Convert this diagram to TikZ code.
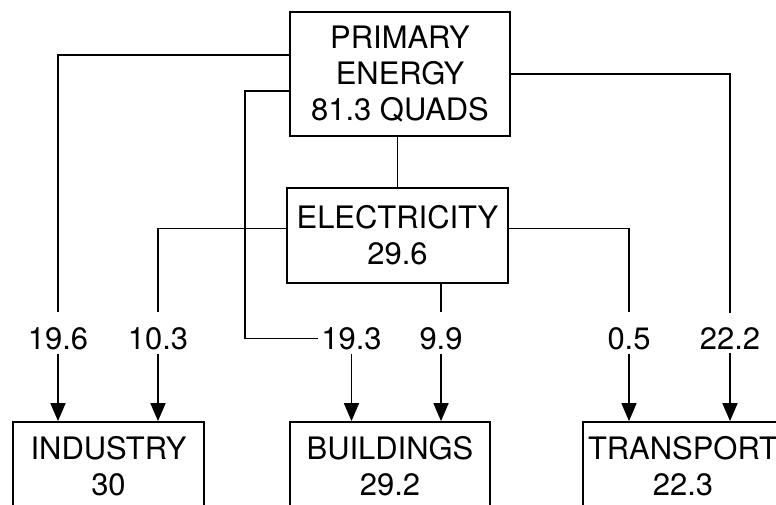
\documentclass[tikz,border=0pt]{standalone}
\usepackage{fontspec}
\setmainfont{TeX Gyre Heros}
\usetikzlibrary{positioning,arrows.meta}

\begin{document}
\begin{tikzpicture}[x=1cm,y=1cm,line width=1pt,
  font=\fontsize{17.6}{20.5}\selectfont,
  box/.style={draw,align=center,inner sep=0pt},
  val/.style={inner sep=0.06cm},
  feed/.style={-{Triangle[length=0.36cm,width=0.3cm]}}]
  \useasboundingbox (0,0) rectangle (15.52,10.1);
  \node[box,minimum width=4.4cm,minimum height=2.48cm] (prim) at (8.0,8.62) {PRIMARY\\ENERGY\\81.3 QUADS};
  \node[box,minimum width=4.42cm,minimum height=1.9cm] (elec) at (7.95,5.39) {ELECTRICITY\\29.6};
  % end uses, cut by the lower edge
  \node[box,minimum width=3.82cm,minimum height=1.76cm] (ind) at (2.17,0.78) {INDUSTRY\\30};
  \node[box,minimum width=4.0cm,minimum height=1.76cm] (bld) at (7.8,0.78) {BUILDINGS\\29.2};
  \node[box,minimum width=4.0cm,minimum height=1.76cm] (trn) at (13.66,0.78) {TRANSPORT\\22.3};
  % flow values
  \foreach \nm/\x/\v in {v196/1.16/19.6, v103/3.16/10.3, v193/7.03/19.3, v99/8.82/9.9, v05/12.58/0.5, v222/14.6/22.2}
    \node[val] (\nm) at (\x,3.33) {\v};
  \draw (elec.north) -- (elec.north |- prim.south);
  \draw ([yshift=0.38cm]prim.west) -| ([yshift=0.22cm]v196.north);
  \draw ([yshift=-0.34cm]prim.west) -| ([xshift=-1.45cm]v193.west) -- (v193.west);
  \draw (prim.east) -| ([yshift=0.22cm]v222.north);
  \draw ([yshift=0.14cm]elec.west) -| ([yshift=0.22cm]v103.north);
  \draw (elec.south -| v99) -- ([yshift=0.22cm]v99.north);
  \draw ([yshift=0.14cm]elec.east) -| ([yshift=0.22cm]v05.north);
  \draw[feed] (v196.south) -- (v196.south |- ind.north);
  \draw[feed] (v103.south) -- (v103.south |- ind.north);
  \draw[feed] (v193.south) -- (v193.south |- bld.north);
  \draw[feed] (v99.south) -- (v99.south |- bld.north);
  \draw[feed] (v05.south) -- (v05.south |- trn.north);
  \draw[feed] (v222.south) -- (v222.south |- trn.north);
\end{tikzpicture}
\end{document}
